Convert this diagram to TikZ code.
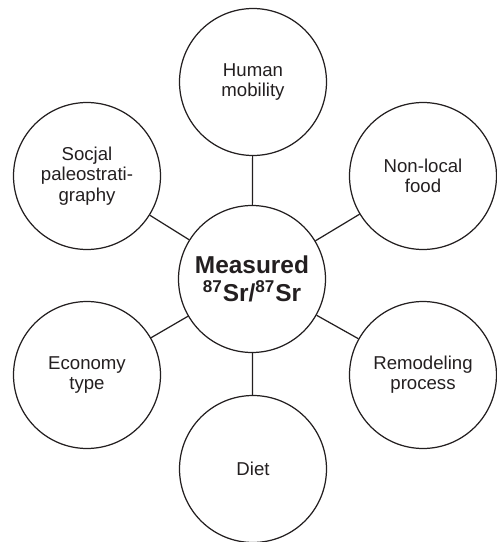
\documentclass[tikz,border=0pt]{standalone}
\usepackage{fontspec}
\setmainfont{Liberation Sans}
\usepackage{tikz}
\usetikzlibrary{calc}
\definecolor{ink}{HTML}{231F20}
\tikzset{
  ring/.style={draw=ink, circle, line width=0.7pt, minimum size=2.94cm, inner sep=0pt,
    align=center, text=ink, font=\fontsize{10.6}{11.5}\selectfont},
  hub/.style={ring, font=\fontsize{13.9}{16}\selectfont\bfseries},
  spoke/.style={draw=ink, line width=0.7pt},
}
\begin{document}
\begin{tikzpicture}[x=0.02cm, y=-0.02cm]
  \useasboundingbox (0,0) rectangle (497,542);
  \node[hub] (M) at (252,279) {Measured\\\textsuperscript{87}Sr/\textsuperscript{87}Sr};
  \node[ring] (H) at (253,82) {Human\\mobility};
  \node[ring] (N) at (423,176) {Non-local\\food};
  \node[ring] (R) at (423,375) {Remodeling\\process};
  \node[ring] (D) at (253,469) {Diet};
  \node[ring] (E) at (87,375) {Economy\\type};
  \node[ring] (S) at (87,176) {Socjal\\paleostrati-\\graphy};
  \foreach \X in {H,N,R,D,E,S}
    \draw[spoke] (M) -- (\X);
\end{tikzpicture}
\end{document}
